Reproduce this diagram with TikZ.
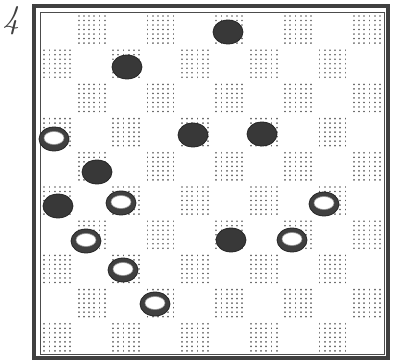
\documentclass[tikz,border=0pt]{standalone}
\begin{document}
\begin{tikzpicture}[x=1pt,y=-1pt,
  dotline/.style={draw=black!62,line width=1.8pt,line cap=round,dash pattern=on 0.01pt off 4.5pt},
  darkman/.style={fill=black!78,draw=black!85,line width=0.8pt},
  whiteman/.style={fill=black!75,draw=black!85,line width=0.8pt},
  whitetop/.style={fill=white,draw=black!40,line width=0.6pt}]
\useasboundingbox (0,0) rectangle (393,362);
% checkerboard dots
\foreach \r in {0,...,9}{
  \pgfmathtruncatemacro\s{mod(\r+1,2)}
  \foreach \k in {0,...,4}{
    \pgfmathsetmacro\cx{40+34.4*(2*\k+\s)}
    \pgfmathsetmacro\cy{12+34.2*\r}
    \foreach \i in {0,...,5}{
      \draw[dotline] (\cx+4.2+5.2*\i,\cy+4) -- (\cx+4.2+5.2*\i,\cy+32);
    }
  }
}
% frame
\draw[black!75,line width=3.6pt] (34,6) rectangle (388,358);
\draw[black!70,line width=0.8pt] (40,12) rectangle (384,354);
% label
\node[font=\itshape,text=black!75,scale=3.3,inner sep=0pt] (lbl) at (11,21) {4};
% dark pieces
\foreach \x/\y in {228/32,127/67,193/135,262/134,97/172,58/206,231/240}{
  \fill[darkman] (\x,\y) ellipse [x radius=15, y radius=12];
}
% white pieces
\foreach \x/\y in {54/139,121/203,324/204,86/241,292/240,123/270,155/304}{
  \fill[whiteman] (\x,\y) ellipse [x radius=15, y radius=12];
  \filldraw[whitetop] (\x,\y-1) ellipse [x radius=10, y radius=6.5];
}
\end{tikzpicture}
\end{document}
